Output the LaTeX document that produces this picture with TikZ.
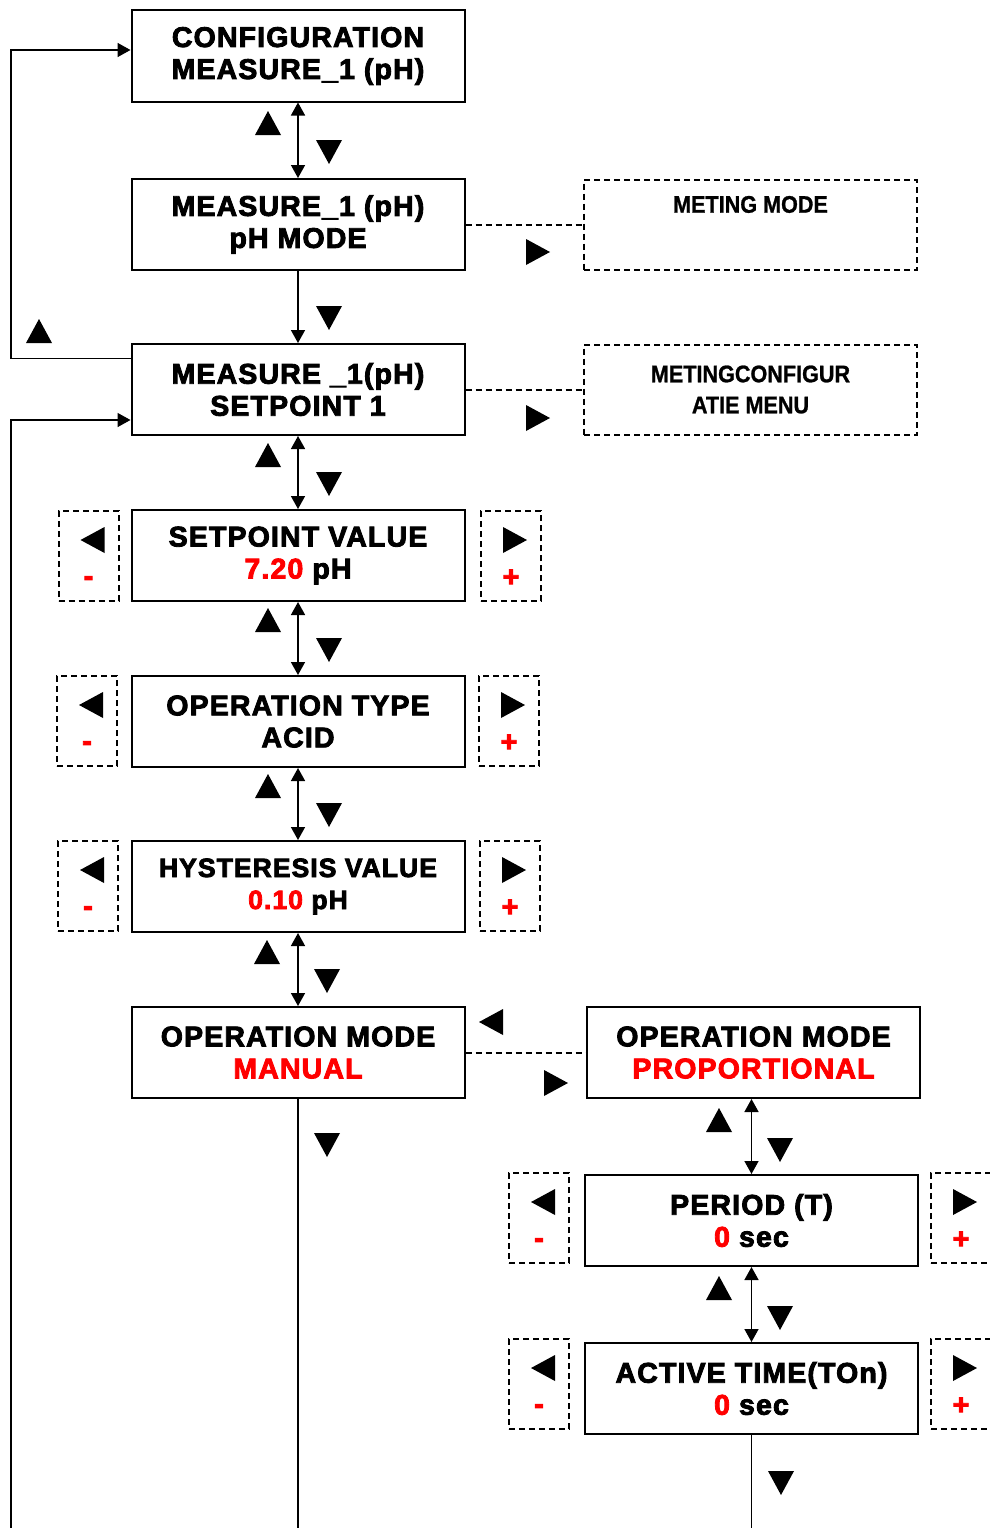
\documentclass[tikz,border=0pt]{standalone}
\usepackage{fontspec}
\setmainfont{Liberation Sans}
\newfontfamily\heavy{Liberation Sans}[LetterSpace=4, BoldFeatures={FakeBold=3}]
\newfontfamily\narrow{Liberation Sans}[FakeStretch=0.9, BoldFeatures={FakeBold=1}]
\usetikzlibrary{arrows.meta}
\definecolor{valred}{RGB}{255,0,0}

\begin{document}
\begin{tikzpicture}[x=1pt,y=-1pt,
  menu/.style={draw, line width=2pt, minimum width=333pt, minimum height=91pt,
    inner sep=0pt, align=center, font=\heavy\bfseries\fontsize{28.5}{32}\selectfont},
  info/.style={draw, line width=2pt, dash pattern=on 6pt off 4pt,
    minimum width=333pt, minimum height=90pt, inner sep=0pt, align=center,
    font=\narrow\bfseries\fontsize{24}{31}\selectfont},
  keybox/.style={draw, line width=2pt, dash pattern=on 6pt off 4pt,
    minimum width=60pt, minimum height=90pt, inner sep=0pt},
  sign/.style={inner sep=0pt, text=valred, font=\heavy\bfseries\fontsize{29}{32}\selectfont},
  link/.style={line width=1.5pt},
  both/.style={line width=1.5pt, {Triangle[length=13pt,width=14pt]}-{Triangle[length=13pt,width=14pt]}},
  into/.style={line width=1.5pt, -{Triangle[length=13pt,width=14pt]}},
  soft/.style={line width=2pt, dash pattern=on 6pt off 4pt},
  up/.pic={\fill (-13,12) -- (13,12) -- (0,-12) -- cycle;},
  dn/.pic={\fill (-13,-12) -- (13,-12) -- (0,12) -- cycle;},
  rt/.pic={\fill (-12,-13) -- (-12,13) -- (12,0) -- cycle;},
  lt/.pic={\fill (12,-13) -- (12,13) -- (-12,0) -- cycle;},
]
\useasboundingbox (0,0) rectangle (989,1528);

% menu screens
\node[menu] (cfg)    at (298,56)      {CONFIGURATION\\MEASURE\_1 (pH)};
\node[menu] (mode)   at (298,224.5)   {MEASURE\_1 (pH)\\pH MODE};
\node[menu] (sp)     at (298,389.5)   {MEASURE \_1(pH)\\SETPOINT 1};
\node[menu] (spv)    at (298,555.5)   {SETPOINT VALUE\\\textcolor{valred}{7.20} pH};
\node[menu] (otype)  at (298,721.5)   {OPERATION TYPE\\ACID};
\node[menu, font=\heavy\bfseries\fontsize{26.5}{32}\selectfont]
            (hyst)   at (298,886.5)   {HYSTERESIS VALUE\\\textcolor{valred}{0.10} pH};
\node[menu] (manual) at (298,1052.5)  {OPERATION MODE\\\textcolor{valred}{MANUAL}};
\node[menu] (prop)   at (753.5,1052.5) {OPERATION MODE\\\textcolor{valred}{PROPORTIONAL}};
\node[menu] (period) at (751.5,1220.5) {PERIOD (T)\\\textcolor{valred}{0} sec};
\node[menu] (ton)    at (751.5,1388.5) {ACTIVE TIME(TOn)\\\textcolor{valred}{0} sec};

% side menus
\node[info] (metmode) at (750.5,224.5) {METING MODE\\\strut};
\node[info] (metcfg)  at (750.5,389.5) {METINGCONFIGUR\\ATIE MENU};

% minus / plus keys beside editable values
\node[keybox] (spvL)    at (88.5,556)  {};
\node[keybox] (spvR)    at (511,556)   {};
\node[keybox] (otypeL)  at (87,721)    {};
\node[keybox] (otypeR)  at (509,721)   {};
\node[keybox] (hystL)   at (88,886)    {};
\node[keybox] (hystR)   at (510,886)   {};
\node[keybox] (periodL) at (539,1218)  {};
\node[keybox] (periodR) at (961,1218)  {};
\node[keybox] (tonL)    at (539,1384)  {};
\node[keybox] (tonR)    at (961,1384)  {};

\foreach \k in {spvL,otypeL,hystL,periodL,tonL}{
  \pic at ([shift={(4,-16)}]\k.center) {lt};
  \node[sign] (\k-s) at ([shift={(0,25)}]\k.center) {-};
}
\foreach \k in {spvR,otypeR,hystR,periodR,tonR}{
  \pic at ([shift={(4,-16)}]\k.center) {rt};
  \node[sign] (\k-s) at ([shift={(0,22)}]\k.center) {+};
}

% vertical navigation
\draw[both] (cfg.south) -- (mode.north);
\draw[into] (mode.south) -- (sp.north);
\draw[both] (sp.south) -- (spv.north);
\draw[both] (spv.south) -- (otype.north);
\draw[both] (otype.south) -- (hyst.north);
\draw[both] (hyst.south) -- (manual.north);
\draw[both] (period.north |- prop.south) -- (period.north);
\draw[both] (period.south) -- (ton.north);

\coordinate (rail) at (11,0);
\coordinate (floor) at (0,1528);
\draw[link] (manual.south) -- (manual.south |- floor);
\draw[link] (ton.south) -- (ton.south |- floor);

% return paths
\draw[into] ([yshift=31pt]sp.west) -| ([yshift=6pt]cfg.west -| rail) -- ([yshift=6pt]cfg.west);
\draw[into] (rail |- floor) |- ([yshift=-30.5pt]sp.west);

% dashed branches
\draw[soft] (mode.east) -- (metmode.west);
\draw[soft] (sp.east) -- (metcfg.west);
\draw[soft] (manual.east) -- (prop.west);

% key symbols
\pic at (268,123) {up};  \pic at (329,152) {dn};
\pic at (329,318) {dn};
\pic at (268,455) {up};  \pic at (329,484) {dn};
\pic at (268,620) {up};  \pic at (329,650) {dn};
\pic at (268,786) {up};  \pic at (329,815) {dn};
\pic at (267,952) {up};  \pic at (327,981) {dn};
\pic at (327,1145) {dn};
\pic at (719,1120) {up}; \pic at (780,1150) {dn};
\pic at (719,1288) {up}; \pic at (780,1318) {dn};
\pic at (781,1483) {dn};
\pic at (39,331) {up};
\pic at (538,252) {rt};
\pic at (538,418) {rt};
\pic at (491,1022) {lt};
\pic at (556,1083) {rt};
\end{tikzpicture}
\end{document}
